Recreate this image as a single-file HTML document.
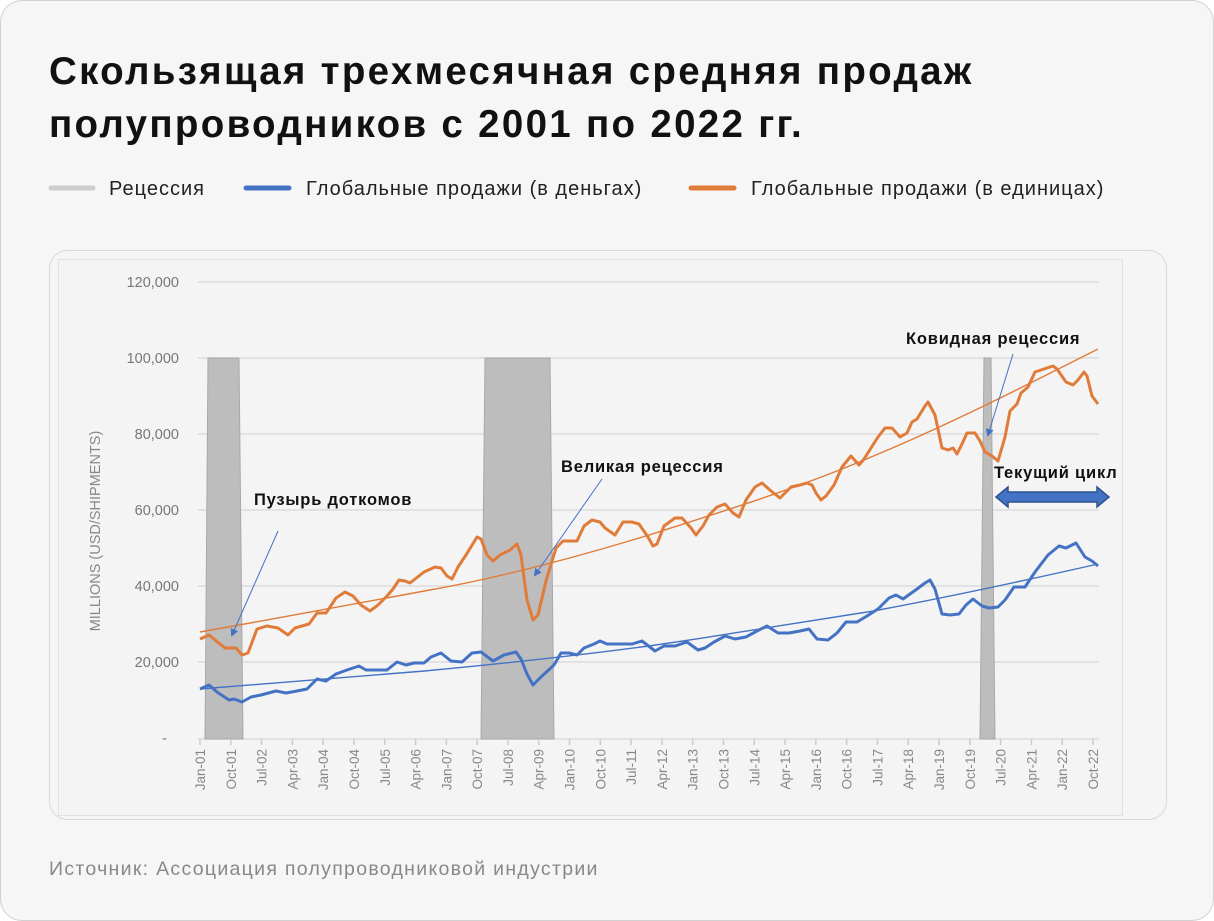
<!DOCTYPE html>
<html><head><meta charset="utf-8"><style>
body{margin:0;background:#fff;}
.card{position:absolute;left:0;top:0;width:1212px;height:919px;border:1px solid #d0d0d0;border-radius:22px;background:#f6f6f6;overflow:hidden;font-family:"Liberation Sans","Noto Sans CJK SC",sans-serif;}
.t{position:absolute;left:48px;top:44px;font-size:38.5px;font-weight:bold;line-height:53px;color:#111;letter-spacing:2.3px;white-space:nowrap}
.src{position:absolute;left:48px;top:857px;font-size:19.5px;letter-spacing:1.3px;color:#888}
</style></head><body><div class="card">
<div class="t">Скользящая трехмесячная средняя продаж<br>полупроводников с 2001 по 2022 гг.</div>
<svg width="1214" height="921" style="position:absolute;left:0;top:0" font-family="Liberation Sans, sans-serif">
<g font-size="20" fill="#222" letter-spacing="1">
<line x1="50" y1="187" x2="92" y2="187" stroke="#ccc" stroke-width="5" stroke-linecap="round"/>
<text x="108" y="194">Рецессия</text>
<line x1="245" y1="187" x2="288" y2="187" stroke="#4472C4" stroke-width="5" stroke-linecap="round"/>
<text x="305" y="194">Глобальные продажи (в деньгах)</text>
<line x1="690" y1="187" x2="733" y2="187" stroke="#E07B39" stroke-width="5" stroke-linecap="round"/>
<text x="750" y="194">Глобальные продажи (в единицах)</text>
</g>
<rect x="48.5" y="249.5" width="1117" height="569" rx="18" fill="#f5f5f5" stroke="#d8d8d8"/>
<rect x="57.5" y="258.5" width="1064" height="556" fill="#f4f4f4" stroke="#e2e2e2"/>
<g stroke="#dcdcdc" stroke-width="1.5">
<line x1="197" y1="281" x2="1098" y2="281"/><line x1="197" y1="357" x2="1098" y2="357"/>
<line x1="197" y1="433" x2="1098" y2="433"/><line x1="197" y1="509" x2="1098" y2="509"/>
<line x1="197" y1="585" x2="1098" y2="585"/><line x1="197" y1="661" x2="1098" y2="661"/>
<line x1="197" y1="738" x2="1098" y2="738"/>
</g>
<g font-size="14.5" fill="#777" text-anchor="end">
<text x="178" y="286">120,000</text><text x="178" y="362">100,000</text><text x="178" y="438">80,000</text>
<text x="178" y="514">60,000</text><text x="178" y="590">40,000</text><text x="178" y="666">20,000</text><text x="166" y="742">-</text>
</g>
<text transform="translate(99,530) rotate(-90)" font-size="14.5" fill="#888" text-anchor="middle">MILLIONS (USD/SHIPMENTS)</text>
<g fill="#bdbdbd" stroke="#a8a8a8" stroke-width="1">
<polygon points="207,357 238,357 242,738 204,738"/>
<polygon points="484,357 549,357 553,738 480,738"/>
<polygon points="983,357 990,357 994,738 979,738"/>
</g>
<g id="ticks" stroke="#ccc" stroke-width="1.5"></g>
<path d="M199,631 C274,618 349,603 423.5,590 C498,577 573,557 648,534 C723,510 798,487 872.5,455 C947,424 1022,386 1097,348" fill="none" stroke="#E07B39" stroke-width="1.4"/>
<path d="M199,688 C274,682 349,676 423.5,670 C498,663 573,655 648,645 C723,634 798,622 872.5,610 C947,596 1022,580 1097,563" fill="none" stroke="#4472C4" stroke-width="1.4"/>
<polyline fill="none" stroke="#E07B39" stroke-width="3" stroke-linejoin="round" points="199,638 208,634 224,647 235,647 241,654 247,652 256,628 266,625 277,627 287,634 294,627 308,623 316,612 325,612 335,597 344,591 352,595 360,604 369,610 377,604 386,595 392,588 398,579 404,580 409,582 423,571 434,566 440,567 446,575 451,578 457,566 465,554 476,536 480,538 486,554 492,560 499,554 509,549 516,543 520,554 526,599 532,619 537,614 545,580 555,547 562,540 570,540 576,540 583,525 591,519 599,521 604,527 614,534 622,521 631,521 638,523 647,536 652,545 656,543 663,525 674,517 681,517 690,527 695,534 702,525 708,514 716,506 724,503 732,512 738,516 745,499 754,486 761,482 770,490 779,497 784,492 790,486 799,484 806,482 811,484 815,492 820,499 825,495 833,484 841,466 850,455 858,464 863,458 870,447 877,436 884,427 891,427 899,436 906,432 911,421 916,418 924,405 927,401 934,414 941,447 947,449 952,447 956,453 961,443 966,432 974,432 979,440 984,451 991,455 997,460 1004,436 1009,410 1016,403 1020,392 1027,386 1034,371 1043,368 1052,365 1056,368 1065,381 1072,384 1077,379 1083,371 1086,375 1091,395 1097,403"/>
<polyline fill="none" stroke="#4472C4" stroke-width="3" stroke-linejoin="round" points="199,688 208,684 216,691 228,699 233,698 241,701 250,696 260,694 275,690 285,692 296,690 306,688 316,678 325,680 335,673 346,669 358,665 365,669 377,669 386,669 396,661 405,664 413,662 423,662 430,656 440,652 450,660 461,661 471,652 480,651 492,660 503,654 515,651 520,658 526,673 532,684 541,675 553,664 560,652 568,652 576,654 583,647 593,643 599,640 606,643 614,643 622,643 631,643 641,640 654,650 663,645 674,645 686,641 697,649 704,647 713,641 724,635 734,638 745,636 756,630 766,625 777,632 788,632 799,630 808,628 816,638 827,639 836,632 845,621 856,621 866,615 877,608 888,597 895,594 902,598 909,593 916,588 924,582 929,579 934,588 941,613 949,614 958,613 965,604 972,598 981,605 988,607 997,606 1004,599 1013,586 1024,586 1034,571 1047,554 1058,545 1065,547 1075,542 1084,556 1091,560 1097,565"/>
<g font-size="16.5" fill="#111" font-weight="bold" letter-spacing="0.8">
<text x="253" y="504">Пузырь доткомов</text>
<text x="560" y="471">Великая рецессия</text>
<text x="905" y="343">Ковидная рецессия</text>
<text x="993" y="477">Текущий цикл</text>
</g>
<defs><marker id="ah" markerWidth="8" markerHeight="8" refX="6" refY="4" orient="auto"><path d="M0,0 L8,4 L0,8 z" fill="#4472C4"/></marker></defs>
<g stroke="#4472C4" stroke-width="1" marker-end="url(#ah)">
<line x1="277" y1="530" x2="231" y2="634"/>
<line x1="601" y1="478" x2="534" y2="574"/>
<line x1="1012" y1="353" x2="987" y2="434"/>
</g>
<polygon points="995,496 1007,486 1007,491 1096,491 1096,486 1108,496 1096,506 1096,501 1007,501 1007,506" fill="#4472C4" stroke="#2f528f" stroke-width="1.5"/>
<g id="xl" font-size="13.5" fill="#888" text-anchor="end"></g>
</svg>
<div class="src">Источник: Ассоциация полупроводниковой индустрии</div>
</div>
<script>
var t="",l="";
for(var i=0;i<30;i++){var m=i*9,x=199+m*(893/261),yr=1+Math.floor(m/12),mo=m%12;var n=(mo==0?"Jan":mo==3?"Apr":mo==6?"Jul":"Oct")+"-"+(yr<10?"0":"")+yr;
t+='<line x1="'+x+'" y1="738" x2="'+x+'" y2="744"/>';
l+='<text transform="translate('+(x+5)+',748) rotate(-90)">'+n+'</text>';}
document.getElementById("ticks").innerHTML=t;document.getElementById("xl").innerHTML=l;
</script>
</body></html>
